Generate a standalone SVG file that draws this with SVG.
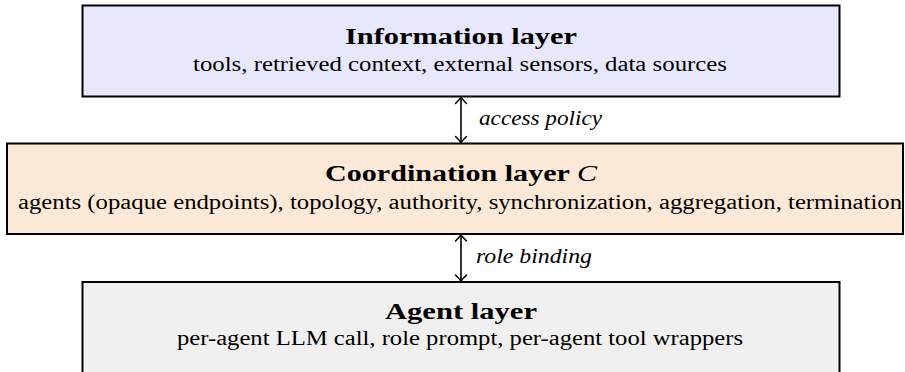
<svg xmlns="http://www.w3.org/2000/svg" width="905" height="372" viewBox="0 0 905 372">
<style>
.box{stroke:#000;stroke-width:2}
text{font-family:'Liberation Serif','DejaVu Serif',serif;fill:#000}
.title{font-weight:bold;font-size:24px;text-anchor:middle}
.sub{font-size:20.5px;text-anchor:middle}
.lab{font-style:italic;font-size:20px}
.conn{stroke:#000;stroke-width:1.6;fill:none}
</style>
<defs>
<marker id="ah" viewBox="-8 -8 16 16" markerWidth="16" markerHeight="16" refX="0" refY="0" orient="auto-start-reverse" markerUnits="userSpaceOnUse">
<path d="M-5.5,-5.5 Q-1.2,-1.2 0.6,0 Q-1.2,1.2 -5.5,5.5" fill="none" stroke="#000" stroke-width="1.5" stroke-linecap="round"/>
</marker>
</defs>
<g id="information-layer">
<rect class="box" x="82.5" y="5.5" width="757" height="91" fill="#e8e8fc"/>
<text class="title" x="461" y="44" textLength="232" lengthAdjust="spacingAndGlyphs">Information layer</text>
<text class="sub" x="460" y="71" textLength="534" lengthAdjust="spacingAndGlyphs">tools, retrieved context, external sensors, data sources</text>
</g>
<g id="coordination-layer">
<rect class="box" x="7" y="143.5" width="896" height="90.5" fill="#fde9d8"/>
<text class="title" x="461" y="181" textLength="272" lengthAdjust="spacingAndGlyphs">Coordination layer <tspan font-style="italic" font-weight="normal">C</tspan></text>
<text class="sub" x="460" y="209" textLength="884" lengthAdjust="spacingAndGlyphs">agents (opaque endpoints), topology, authority, synchronization, aggregation, termination</text>
</g>
<g id="agent-layer">
<rect class="box" x="82.5" y="282" width="757" height="100" fill="#f0f0f0"/>
<text class="title" x="461" y="319" textLength="152" lengthAdjust="spacingAndGlyphs">Agent layer</text>
<text class="sub" x="460" y="345" textLength="566" lengthAdjust="spacingAndGlyphs">per-agent LLM call, role prompt, per-agent tool wrappers</text>
</g>
<g id="connectors">
<line class="conn" x1="461" y1="98" x2="461" y2="142" marker-start="url(#ah)" marker-end="url(#ah)"/>
<text class="lab" x="479" y="125" textLength="123" lengthAdjust="spacingAndGlyphs">access policy</text>
<line class="conn" x1="461" y1="235.5" x2="461" y2="280.5" marker-start="url(#ah)" marker-end="url(#ah)"/>
<text class="lab" x="476" y="263" textLength="116" lengthAdjust="spacingAndGlyphs">role binding</text>
</g>
</svg>
